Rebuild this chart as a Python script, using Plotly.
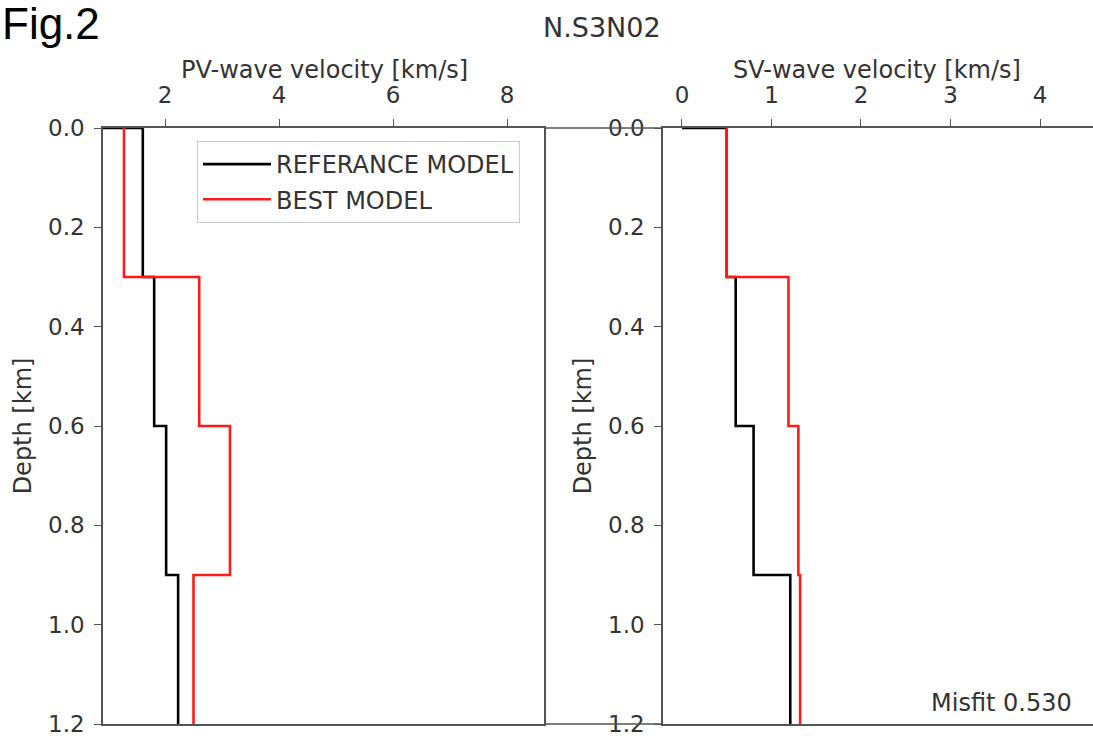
import plotly.graph_objects as go

# ---- data ----
layer_bounds = [0.0, 0.3, 0.6, 0.9, 1.2]          # depth [km]
ref_surface = 0.0                                  # reference model starts at 0 at surface
pv_ref = [1.61, 1.81, 2.02, 2.23]
pv_best = [1.28, 2.60, 3.14, 2.50]
sv_ref = [0.50, 0.60, 0.80, 1.21]
sv_best = [0.50, 1.19, 1.30, 1.32]
pv_ticks = [2, 4, 6, 8]
sv_ticks = [0, 1, 2, 3, 4]
depth_ticks = [0.0, 0.2, 0.4, 0.6, 0.8, 1.0, 1.2]
station = "N.S3N02"
misfit = 0.530


def steps(vals, bounds, surface=None):
    xs, ys = [], []
    if surface is not None:
        xs.append(surface)
        ys.append(bounds[0])
    for i, v in enumerate(vals):
        xs += [v, v]
        ys += [bounds[i], bounds[i + 1]]
    return xs, ys


W, H = 1093, 738
FONT = "DejaVu Sans"
FS = 23       # tick labels
FT = 24       # titles / legend / annotation
TXT = "#333333"
SPINE = "#555555"

fig = go.Figure()

x, y = steps(pv_ref, layer_bounds, ref_surface)
fig.add_trace(go.Scatter(x=x, y=y, mode="lines", name="REFERANCE MODEL", legendgroup="a",
                         line=dict(color="black", width=2.6), xaxis="x", yaxis="y"))
x, y = steps(pv_best, layer_bounds)
fig.add_trace(go.Scatter(x=x, y=y, mode="lines", name="BEST MODEL", legendgroup="b",
                         line=dict(color="#ff1a1a", width=2.6), xaxis="x", yaxis="y"))
x, y = steps(sv_ref, layer_bounds, ref_surface)
fig.add_trace(go.Scatter(x=x, y=y, mode="lines", showlegend=False,
                         line=dict(color="black", width=2.6), xaxis="x2", yaxis="y2"))
x, y = steps(sv_best, layer_bounds)
fig.add_trace(go.Scatter(x=x, y=y, mode="lines", showlegend=False,
                         line=dict(color="#ff1a1a", width=2.6), xaxis="x2", yaxis="y2"))

px = lambda v: v / W
py = lambda v: 1 - v / H

axis_common = dict(showgrid=False, zeroline=False, showline=True, linecolor=SPINE,
                   linewidth=1.6, ticks="outside", ticklen=7, tickwidth=1.4,
                   tickcolor=SPINE, automargin=False,
                   tickfont=dict(family=FONT, size=FS, color=TXT))

fig.update_layout(
    width=W, height=H, margin=dict(l=0, r=0, t=0, b=0),
    paper_bgcolor="white", plot_bgcolor="white",
    font=dict(family=FONT, size=FS, color=TXT),
    xaxis=dict(domain=[px(103), px(544)], range=[0.912, 8.649], side="top",
               tickvals=pv_ticks, mirror=True, anchor="y", ticklabelstandoff=7,
               **axis_common),
    yaxis=dict(domain=[py(724), py(128)], range=[1.2, 0], tickvals=depth_ticks,
               tickformat=".1f", mirror=True, anchor="x", ticklabelstandoff=5,
               title=dict(text="Depth [km]", font=dict(size=FT), standoff=10),
               **axis_common),
    xaxis2=dict(domain=[px(663), 1.0], range=[-0.212, 4.592], side="top",
                tickvals=sv_ticks, mirror=True, anchor="y2", ticklabelstandoff=7,
                **axis_common),
    yaxis2=dict(domain=[py(724), py(128)], range=[1.2, 0], tickvals=depth_ticks,
                tickformat=".1f", anchor="x2", ticklabelstandoff=5,
                title=dict(text="Depth [km]", font=dict(size=FT), standoff=10),
                **axis_common),
    legend=dict(x=px(197), y=py(141), xanchor="left", yanchor="top",
                bgcolor="rgba(255,255,255,0.85)", bordercolor="#cccccc", borderwidth=1,
                font=dict(family=FONT, size=FT, color=TXT), tracegroupgap=1,
                itemwidth=68),
    showlegend=True,
)

# connecting top/bottom lines across the gap between panels
for yy in (128, 724):
    fig.add_shape(type="line", xref="paper", yref="paper", x0=px(544), x1=px(663),
                  y0=py(yy), y1=py(yy), line=dict(color=SPINE, width=1.6), layer="above")

# axis titles (top x axes)
fig.add_annotation(text="PV-wave velocity [km/s]", xref="paper", yref="paper",
                   x=px(324), y=py(70), xanchor="center", yanchor="middle", showarrow=False,
                   font=dict(family=FONT, size=FT, color=TXT))
fig.add_annotation(text="SV-wave velocity [km/s]", xref="paper", yref="paper",
                   x=px(877), y=py(70), xanchor="center", yanchor="middle", showarrow=False,
                   font=dict(family=FONT, size=FT, color=TXT))

fig.add_annotation(text="Fig.2", xref="paper", yref="paper", x=0, y=py(24),
                   xanchor="left", yanchor="middle", showarrow=False,
                   font=dict(family="Liberation Sans", size=44, color="black"))
fig.add_annotation(text=station, xref="paper", yref="paper", x=px(602), y=py(28),
                   xanchor="center", yanchor="middle", showarrow=False,
                   font=dict(family=FONT, size=27, color=TXT))
fig.add_annotation(text=f"Misfit {misfit:.3f}", xref="paper", yref="paper",
                   x=px(1074), y=py(703), xanchor="right", yanchor="middle",
                   showarrow=False, font=dict(family=FONT, size=FT, color=TXT))

fig.write_html("out.html")
